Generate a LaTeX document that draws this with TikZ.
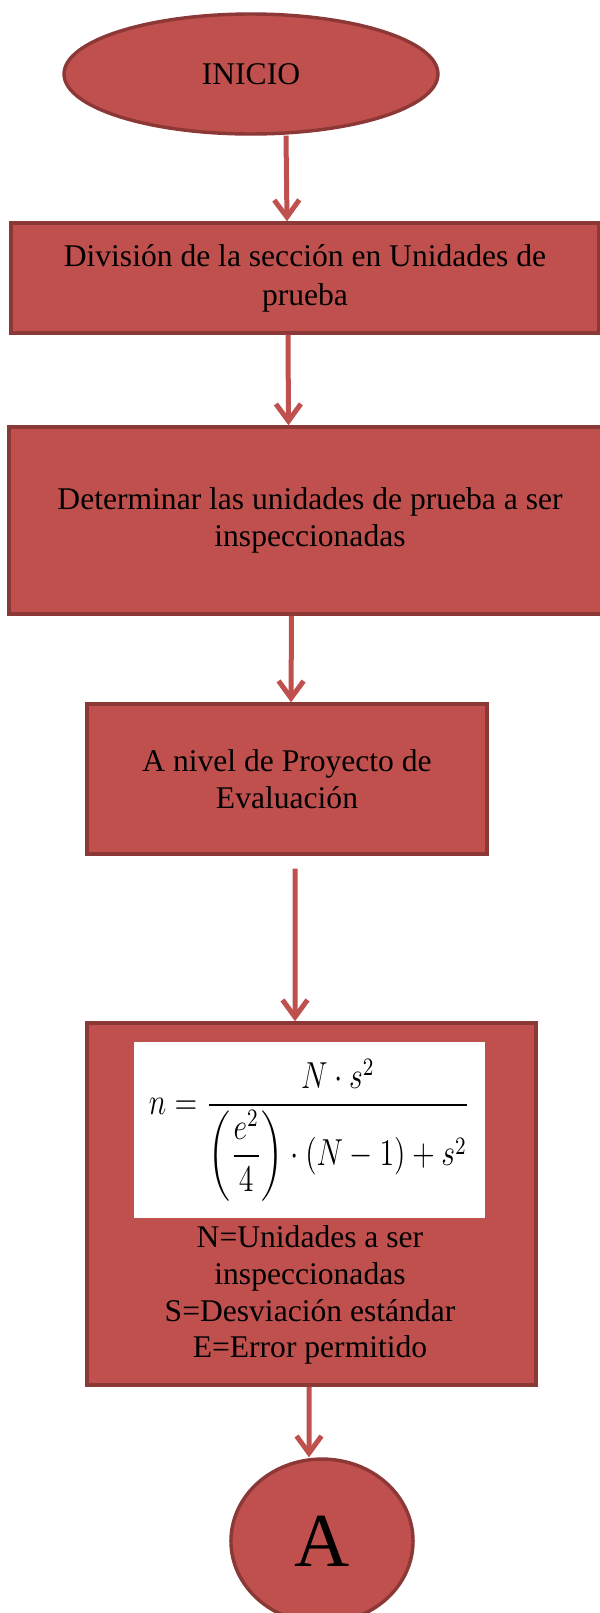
\documentclass[tikz,border=0pt]{standalone}
\usepackage{amsmath}
\usepackage{graphicx}
\usepackage{fontspec}
\setmainfont{Liberation Serif}
\usepackage{tikz}
\usetikzlibrary{positioning, shapes.geometric, arrows.meta}

\definecolor{rojo}{RGB}{192,80,77}
\definecolor{borde}{RGB}{140,56,54}

\begin{document}
\begin{tikzpicture}[
        x=0.38pt, y=-0.38pt,
        font=\fontsize{12}{13.9}\selectfont,
        caja/.style={
            draw=borde,
            fill=rojo,
            line width=1.3pt,
            align=center,
            inner sep=0pt
        },
        elipse/.style={caja, ellipse},
        flecha/.style={
            draw=rojo,
            line width=1.9pt,
            -{Straight Barb[length=6.5pt, width=9.5pt]}
        }
    ]
    \useasboundingbox (0,0) rectangle (600,1613);

    \node[elipse, minimum width=142.1pt, minimum height=45.6pt] (inicio) at (251,74) {INICIO};
    \node[caja, minimum width=223.4pt, minimum height=41.8pt, font=\fontsize{12}{14.8}\selectfont] (div) at (305,278)
        {División de la sección en Unidades de\\prueba};
    \node[caja, minimum width=228.8pt, minimum height=71.1pt] (det) at (310,520.5)
        {Determinar las unidades de prueba a ser\\inspeccionadas};
    \node[caja, minimum width=152pt, minimum height=57pt] (nivel) at (287,779)
        {A nivel de Proyecto de\\Evaluación};
    \node[caja, minimum width=170.6pt, minimum height=137.6pt] (formula) at (311.5,1204) {};
    \node[fill=white, inner sep=0pt, minimum width=133.4pt, minimum height=66.9pt] (img) at (309.5,1130)
        {\resizebox*{122pt}{54pt}{$\displaystyle n=\frac{N\cdot s^{2}}{\left(\dfrac{e^{2}}{4}\right)\cdot\left(N-1\right)+s^{2}}$}};
    \node[align=center, inner sep=0pt, font=\fontsize{12}{14}\selectfont] (leyenda) at (310,1295)
        {N=Unidades a ser\\inspeccionadas\\S=Desviación estándar\\E=Error permitido};
    \node[elipse, minimum width=69.2pt, minimum height=62.3pt, font=\fontsize{29}{34}\selectfont] (fin) at (322,1541) {A};

    \draw[flecha] ([xshift=13.3pt]inicio.south) -- ([xshift=-6.84pt]div.north);
    \draw[flecha] ([xshift=-6.46pt]div.south) -- ([xshift=-8.17pt]det.north);
    \draw[flecha] ([xshift=-7.03pt]det.south) -- ([xshift=1.52pt]nivel.north);
    \draw[flecha] ([xshift=3.04pt, yshift=-4.94pt]nivel.south) -- ([xshift=-6.27pt]formula.north);
    \draw[flecha] ([xshift=-0.95pt]formula.south) -- ([xshift=-4.94pt]fin.north);
\end{tikzpicture}
\end{document}
